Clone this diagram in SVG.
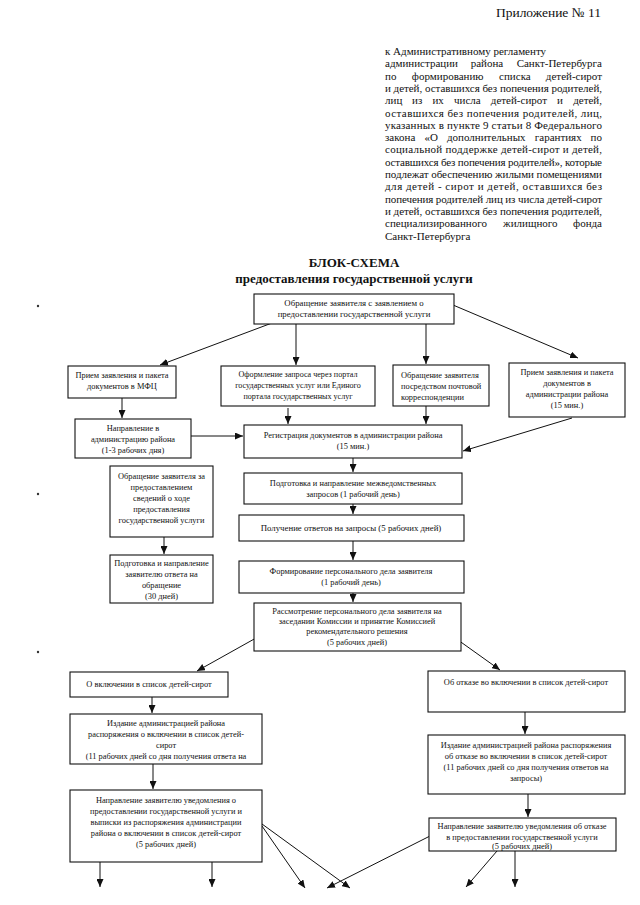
<svg xmlns="http://www.w3.org/2000/svg" width="640" height="905" viewBox="0 0 640 905">
<defs>
<marker id="ah" markerWidth="8" markerHeight="7" refX="8" refY="3.5" orient="auto" markerUnits="userSpaceOnUse">
<path d="M0,0 L8,3.5 L0,7 z" fill="#111"/>
</marker>
<style>
.hd{font-family:"Liberation Serif","Times New Roman",serif;font-size:11px;fill:#111}
.tt{font-family:"Liberation Serif","Times New Roman",serif;font-size:13px;font-weight:bold;fill:#111;text-anchor:middle}
.bx rect{fill:#fff;stroke:#111;stroke-width:1.1}
.bx text{font-family:"Liberation Serif","Times New Roman",serif;font-size:8.4px;fill:#111;text-anchor:middle}
.bx text.l{text-anchor:start}
.bx text.b{font-size:8.8px}
.bx text.s{font-size:8.1px}
.cn line{stroke:#111;stroke-width:1;marker-end:url(#ah)}
.m{text-anchor:middle}
.e{text-anchor:end}
</style>
</defs>
<rect width="640" height="905" fill="#fff"/>

<g id="header">
<text x="601" y="17" class="hd e" style="font-size:13.5px">Приложение № 11</text>
<text x="385" y="55" class="hd">к Административному регламенту</text>
<text x="385" y="67.3" class="hd">администрации</text>
<text x="487" y="67.3" class="hd m">района</text>
<text x="602" y="67.3" class="hd e">Санкт-Петербурга</text>
<text x="385" y="79.6" class="hd">по</text>
<text x="447.7" y="79.6" class="hd m">формированию</text>
<text x="514.9" y="79.6" class="hd m">списка</text>
<text x="602" y="79.6" class="hd e">детей-сирот</text>
<text x="385" y="91.9" class="hd" textLength="217" lengthAdjust="spacing">и детей, оставшихся без попечения родителей,</text>
<text x="385" y="104.2" class="hd">лиц</text>
<text x="417.2" y="104.2" class="hd m">из</text>
<text x="438.1" y="104.2" class="hd m">их</text>
<text x="467.4" y="104.2" class="hd m">числа</text>
<text x="518.9" y="104.2" class="hd m">детей-сирот</text>
<text x="560" y="104.2" class="hd m">и</text>
<text x="602" y="104.2" class="hd e">детей,</text>
<text x="385" y="116.5" class="hd" textLength="217" lengthAdjust="spacing">оставшихся без попечения  родителей, лиц,</text>
<text x="385" y="128.8" class="hd" textLength="217" lengthAdjust="spacing">указанных в пункте 9 статьи 8 Федерального</text>
<text x="385" y="141.1" class="hd">закона</text>
<text x="431.2" y="141.1" class="hd m">«О</text>
<text x="486.3" y="141.1" class="hd m">дополнительных</text>
<text x="558.2" y="141.1" class="hd m">гарантиях</text>
<text x="602" y="141.1" class="hd e">по</text>
<text x="385" y="153.4" class="hd" textLength="217" lengthAdjust="spacing">социальной поддержке детей-сирот и детей,</text>
<text x="385" y="165.7" class="hd" textLength="217" lengthAdjust="spacing">оставшихся без попечения родителей», которые</text>
<text x="385" y="178" class="hd" textLength="217" lengthAdjust="spacing">подлежат обеспечению жилыми помещениями</text>
<text x="385" y="190.3" class="hd" textLength="217" lengthAdjust="spacing">для детей - сирот и детей, оставшихся без</text>
<text x="385" y="202.6" class="hd" textLength="217" lengthAdjust="spacing">попечения родителей лиц из числа детей-сирот</text>
<text x="385" y="214.9" class="hd" textLength="217" lengthAdjust="spacing">и детей, оставшихся без попечения родителей,</text>
<text x="385" y="227.2" class="hd">специализированного</text>
<text x="530.3" y="227.2" class="hd m">жилищного</text>
<text x="602" y="227.2" class="hd e">фонда</text>
<text x="385" y="239.5" class="hd">Санкт-Петербурга</text>
</g>

<g id="title">
<text x="354" y="267" class="tt">БЛОК-СХЕМА</text>
<text x="354" y="283" class="tt">предоставления государственной услуги</text>
</g>

<g id="dots" fill="#333">
<circle cx="38" cy="306" r="1.2"/>
<circle cx="38" cy="494" r="1.2"/>
<circle cx="38" cy="652" r="1.2"/>
</g>

<g id="connectors" class="cn">
<line x1="272" y1="323" x2="160" y2="365"/>
<line x1="296" y1="324" x2="296" y2="365"/>
<line x1="426" y1="324" x2="426" y2="364"/>
<line x1="453" y1="305" x2="578" y2="358"/>
<line x1="122" y1="398" x2="122" y2="418"/>
<line x1="191" y1="436" x2="243" y2="436"/>
<line x1="288" y1="408" x2="288" y2="424"/>
<line x1="426" y1="406" x2="426" y2="424"/>
<line x1="572" y1="418" x2="463" y2="451"/>
<line x1="353" y1="458" x2="353" y2="472"/>
<line x1="353" y1="504" x2="353" y2="514"/>
<line x1="353" y1="541" x2="353" y2="560"/>
<line x1="353" y1="593" x2="353" y2="602"/>
<line x1="164" y1="537" x2="164" y2="554"/>
<line x1="256" y1="638" x2="197" y2="671"/>
<line x1="458" y1="640" x2="500" y2="670"/>
<line x1="152" y1="697" x2="152" y2="713"/>
<line x1="525" y1="712" x2="525" y2="734"/>
<line x1="153" y1="764" x2="153" y2="789"/>
<line x1="528" y1="794" x2="528" y2="817"/>
<line x1="100" y1="862" x2="100" y2="887"/>
<line x1="212" y1="862" x2="212" y2="887"/>
<line x1="262" y1="826" x2="305" y2="888"/>
<line x1="262" y1="824" x2="350" y2="888"/>
<line x1="430" y1="836" x2="327" y2="888"/>
<line x1="497" y1="851" x2="466" y2="887"/>
<line x1="515" y1="851" x2="515" y2="887"/>
</g>

<g id="n1" class="bx"><rect x="254" y="294" width="200" height="30"/>
<text x="354" y="306" class="b">Обращение заявителя с заявлением о</text>
<text x="354" y="317" class="b">предоставлении государственной услуги</text></g>

<g id="n2" class="bx"><rect x="68" y="366" width="108" height="32"/>
<text x="122" y="378">Прием заявления и пакета</text>
<text x="122" y="389">документов в МФЦ</text></g>

<g id="n3" class="bx"><rect x="221" y="366" width="154" height="40"/>
<text x="298" y="377" class="s">Оформление запроса через портал</text>
<text x="298" y="388" class="s">государственных услуг или Единого</text>
<text x="298" y="399" class="s">портала государственных услуг</text></g>

<g id="n4" class="bx"><rect x="393" y="365" width="96" height="41"/>
<text x="401" y="378" class="l">Обращение заявителя</text>
<text x="401" y="389" class="l">посредством почтовой</text>
<text x="401" y="400" class="l">корреспонденции</text></g>

<g id="n5" class="bx"><rect x="509" y="363" width="116" height="54"/>
<text x="567" y="375">Прием заявления и пакета</text>
<text x="567" y="386">документов в</text>
<text x="567" y="397">администрации района</text>
<text x="567" y="408">(15 мин.)</text></g>

<g id="n6" class="bx"><rect x="75" y="419" width="116" height="39"/>
<text x="133" y="431">Направление в</text>
<text x="133" y="442">администрацию района</text>
<text x="133" y="453">(1-3 рабочих дня)</text></g>

<g id="n7" class="bx"><rect x="244" y="425" width="218" height="33"/>
<text x="353" y="438">Регистрация документов в администрации района</text>
<text x="353" y="449">(15 мин.)</text></g>

<g id="n8" class="bx"><rect x="110" y="466" width="103" height="71"/>
<text x="161.5" y="479">Обращение заявителя за</text>
<text x="161.5" y="490">предоставлением</text>
<text x="161.5" y="501">сведений о ходе</text>
<text x="161.5" y="512">предоставления</text>
<text x="161.5" y="523">государственной услуги</text></g>

<g id="n9" class="bx"><rect x="244" y="473" width="218" height="31"/>
<text x="353" y="486">Подготовка и направление межведомственных</text>
<text x="353" y="497">запросов  (1 рабочий день)</text></g>

<g id="n10" class="bx"><rect x="239" y="515" width="225" height="26"/>
<text x="351" y="531" class="b">Получение ответов на запросы (5 рабочих дней)</text></g>

<g id="n11" class="bx"><rect x="110" y="555" width="103" height="48"/>
<text x="161.5" y="566">Подготовка и направление</text>
<text x="161.5" y="577">заявителю ответа на</text>
<text x="161.5" y="588">обращение</text>
<text x="161.5" y="599">(30 дней)</text></g>

<g id="n12" class="bx"><rect x="239" y="561" width="225" height="32"/>
<text x="351" y="574">Формирование персонального дела заявителя</text>
<text x="351" y="585">(1 рабочий день)</text></g>

<g id="n13" class="bx"><rect x="254" y="603" width="207" height="48"/>
<text x="357" y="614">Рассмотрение персонального дела заявителя на</text>
<text x="357" y="624">заседании Комиссии и принятие Комиссией</text>
<text x="357" y="634">рекомендательного решения</text>
<text x="357" y="645">(5 рабочих дней)</text></g>

<g id="n14" class="bx"><rect x="70" y="672" width="158" height="25"/>
<text x="149" y="687">О включении в список детей-сирот</text></g>

<g id="n15" class="bx"><rect x="428" y="671" width="197" height="41"/>
<text x="526" y="685">Об отказе во включении в список детей-сирот</text></g>

<g id="n16" class="bx"><rect x="70" y="714" width="192" height="50"/>
<text x="166" y="726">Издание администрацией района</text>
<text x="166" y="737">распоряжения о включении в список детей-</text>
<text x="166" y="748">сирот</text>
<text x="166" y="759">(11 рабочих дней со дня получения ответа на</text></g>

<g id="n17" class="bx"><rect x="428" y="735" width="197" height="59"/>
<text x="526" y="748">Издание администрацией района распоряжения</text>
<text x="526" y="759">об отказе во включении в список детей-сирот</text>
<text x="526" y="770">(11 рабочих дней со дня получения ответов на</text>
<text x="526" y="781">запросы)</text></g>

<g id="n18" class="bx"><rect x="70" y="790" width="192" height="72"/>
<text x="166" y="803">Направление заявителю уведомления о</text>
<text x="166" y="814">предоставлении государственной услуги и</text>
<text x="166" y="825">выписки из распоряжения администрации</text>
<text x="166" y="836">района о включении в список детей-сирот</text>
<text x="166" y="847">(5 рабочих дней)</text></g>

<g id="n19" class="bx"><rect x="429" y="818" width="187" height="33"/>
<text x="522" y="829">Направление заявителю уведомления об отказе</text>
<text x="522" y="840">в предоставлении государственной услуги</text>
<text x="522" y="849">(5 рабочих дней)</text></g>
</svg>
